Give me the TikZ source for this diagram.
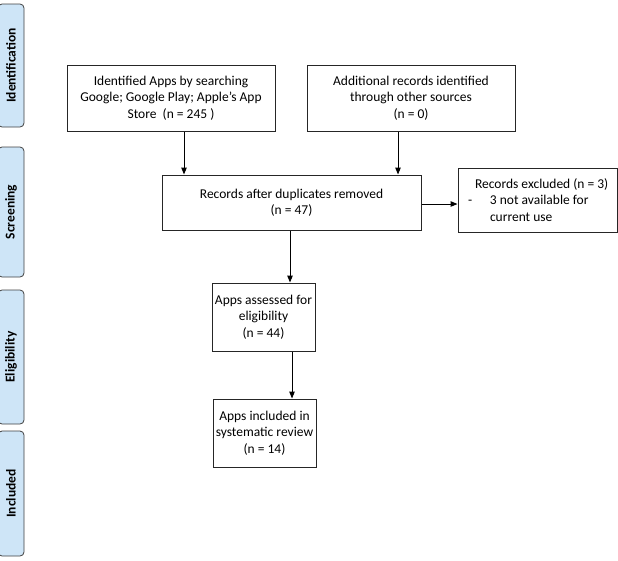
\documentclass[tikz,border=0pt]{standalone}
\usepackage{fontspec}
\setmainfont{Carlito}
\usetikzlibrary{arrows.meta}
\definecolor{tabblue}{RGB}{206,229,247}
\begin{document}
\begin{tikzpicture}[x=1pt,y=-1pt,
  box/.style={draw=black!85, line width=1pt, fill=white, inner sep=0pt, align=center,
    font=\fontsize{13.5}{16.5}\selectfont},
  tab/.style={draw=black!75, line width=0.8pt, fill=tabblue, rounded corners=4pt,
    rotate=90, inner sep=0pt, minimum height=26pt, font=\fontsize{13.5}{16}\selectfont\bfseries},
  arr/.style={-{Triangle[length=7pt,width=5.5pt]}, line width=1pt}]
\useasboundingbox (0,0) rectangle (618,560);
\clip (0,0) rectangle (618,560);
% side tabs
\node[tab, minimum width=123pt] (t1) at (11,65.5) {Identification};
\node[tab, minimum width=130pt] (t2) at (11,212) {Screening};
\node[tab, minimum width=134pt] (t3) at (11,357) {Eligibility};
\node[tab, minimum width=125pt] (t4) at (11,493.5) {Included};
% boxes
\node[box, minimum width=208pt, minimum height=66pt] (b1) at (171,98)
  {Identified Apps by searching\\Google; Google Play; Apple’s App\\Store~~(n = 245 )};
\node[box, minimum width=208pt, minimum height=66pt] (b2) at (411,98)
  {Additional records identified\\through other sources\\(n = 0)};
\node[box, minimum width=259pt, minimum height=55pt] (b3) at (291.5,202.5)
  {Records after duplicates removed\\(n = 47)};
\node[box, minimum width=159pt, minimum height=64pt, text width=155pt, align=flush left] (bx) at (537.5,200)
  {\hspace*{15pt}Records excluded (n = 3)\\\hspace*{8pt}\makebox[22pt][l]{-}3 not available for\\\hspace*{30pt}current use};
\node[box, minimum width=103pt, minimum height=68pt] (b4) at (263.5,317)
  {Apps assessed for\\eligibility\\(n = 44)};
\node[box, minimum width=103pt, minimum height=68pt] (b5) at (264.5,433)
  {Apps included in\\systematic review\\(n = 14)};
% connectors
\coordinate (x1) at (184,0);
\coordinate (x2) at (398,0);
\coordinate (x3) at (290,0);
\coordinate (x4) at (292,0);
\coordinate (ey) at (0,204);
\draw[arr] (b1.south -| x1) -- (b3.north -| x1);
\draw[arr] (b2.south -| x2) -- (b3.north -| x2);
\draw[arr] (b3.east |- ey) -- (bx.west |- ey);
\draw[arr] (b3.south -| x3) -- (b4.north -| x3);
\draw[arr] (b4.south -| x4) -- (b5.north -| x4);
\end{tikzpicture}
\end{document}
